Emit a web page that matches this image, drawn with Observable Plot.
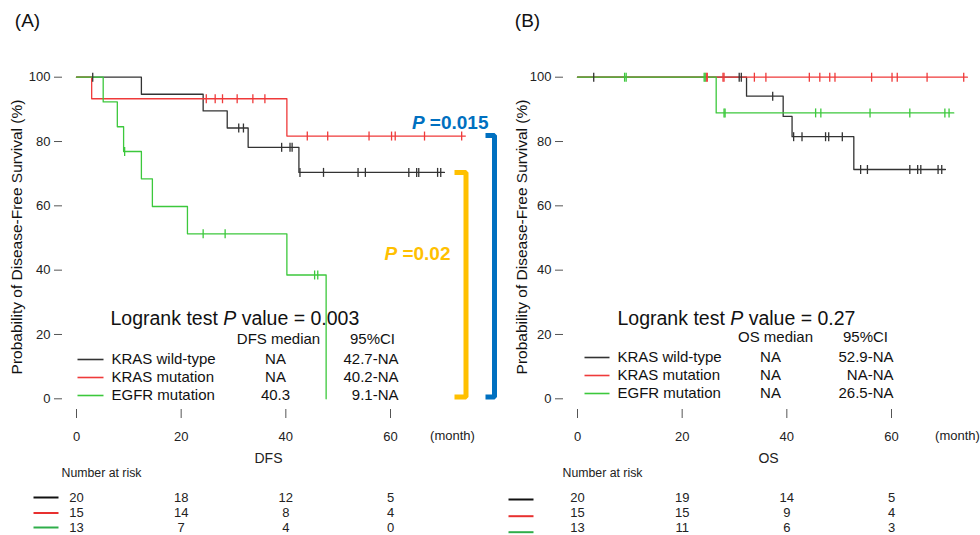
<!DOCTYPE html>
<html><head><meta charset="utf-8">
<script src="https://cdn.jsdelivr.net/npm/d3@7"></script>
<script src="https://cdn.jsdelivr.net/npm/@observablehq/plot@0.6"></script>
<style>
body{margin:0;background:#fff;}
#fig{position:relative;width:980px;height:535px;background:#fff;font-family:"Liberation Sans",Arial,sans-serif;}
#fig svg{position:absolute;top:0;overflow:visible;}
</style></head><body><div id="fig"></div>
<script>
// ---------- data ----------
const groups = ["KRAS wild-type", "KRAS mutation", "EGFR mutation"];
const lineColors = ["#333333", "#ef3a3a", "#3cc83c"];
const riskColors = ["#111111", "#e8302f", "#2fae4a"];
const riskTimes = [0, 20, 40, 60];
const xTicks = [0, 20, 40, 60];
const yTicks = [0, 20, 40, 60, 80, 100];

// DFS (panel A): step times, survival (%) after each step, end of follow-up, censor times
const dfsWtTimes = [0, 12.4, 24.2, 28.8, 32.8, 42.5];
const dfsWtSurv = [100, 94.7, 89.5, 84.2, 78.2, 70.4];
const dfsWtEnd = 70.3;
const dfsWtCens = [3.1, 31.0, 31.9, 39.2, 40.8, 41.2, 42.7, 47.2, 53.8, 55.2, 63.5, 65.0, 65.4, 69.0, 69.6];

const dfsMutTimes = [0, 2.9, 40.2];
const dfsMutSurv = [100, 93.3, 81.7];
const dfsMutEnd = 74.3;
const dfsMutCens = [24.8, 26.5, 27.9, 30.7, 33.7, 36.0, 44.1, 48.0, 55.9, 60.2, 60.9, 66.5, 73.6];

const dfsEgfrTimes = [0, 5.1, 7.8, 9.0, 12.4, 14.5, 21.2, 40.2, 47.7];
const dfsEgfrSurv = [100, 92.3, 84.6, 76.9, 68.4, 59.8, 51.3, 38.5, 0];
const dfsEgfrEnd = 47.7;
const dfsEgfrCens = [9.2, 24.2, 28.4, 45.5, 46.1];

const dfsRisk = [[20, 18, 12, 5], [15, 14, 8, 4], [13, 7, 4, 0]];
const dfsMedian = ["NA", "NA", "40.3"];
const dfsCI = ["42.7-NA", "40.2-NA", "9.1-NA"];
const dfsLogrank = "0.003";

// OS (panel B)
const osWtTimes = [0, 32.3, 39.3, 41.0, 52.8];
const osWtSurv = [100, 94.1, 87.8, 81.5, 71.3];
const osWtEnd = 70.3;
const osWtCens = [3.1, 30.9, 31.3, 37.3, 41.3, 42.9, 47.4, 48.0, 50.6, 54.1, 55.4, 63.5, 65.0, 65.6, 68.9, 69.6];

const osMutTimes = [0];
const osMutSurv = [100];
const osMutEnd = 74.5;
const osMutCens = [24.6, 24.8, 27.8, 28.0, 33.8, 36.0, 44.3, 46.3, 48.2, 49.2, 56.2, 60.1, 61.1, 66.8, 73.8];

const osEgfrTimes = [0, 26.5];
const osEgfrSurv = [100, 88.9];
const osEgfrEnd = 71.9;
const osEgfrCens = [9.0, 9.3, 24.2, 24.4, 28.0, 28.2, 45.5, 46.5, 55.9, 63.5, 70.2, 71.0];

const osRisk = [[20, 19, 14, 5], [15, 15, 9, 4], [13, 11, 6, 3]];
const osMedian = ["NA", "NA", "NA"];
const osCI = ["52.9-NA", "NA-NA", "26.5-NA"];
const osLogrank = "0.27";

// pairwise p-values shown on panel A (plateau levels of the compared curves)
const pairP = [
  {label: "P =0.015", color: "#0070c0", top: 81.9},
  {label: "P =0.02", color: "#ffc000", top: 70.4}
];

// ---------- helpers ----------
const FONT = '"Liberation Sans", Arial, sans-serif';
const vbar = {draw(ctx, size) { const r = Math.sqrt(size / Math.PI); ctx.moveTo(0, -r); ctx.lineTo(0, r); }};

function stepAt(times, surv, t) {
  let s = surv[0];
  for (let i = 0; i < times.length; i++) if (times[i] <= t) s = surv[i];
  return s;
}
function curvePoints(times, surv, end) {
  const pts = times.map((t, i) => ({t, s: surv[i]}));
  pts.push({t: end, s: surv[surv.length - 1]});
  return pts;
}

function panel(cfg) {
  const {width, left, x0px, x60px, mL, mR} = cfg;
  const height = 535, mT = 64, mB = 126;
  const y0px = 398.3, y100px = 76.7;
  const kx = (x60px - x0px) / 60, ky = (y0px - y100px) / 100;
  const X = (px) => (px - x0px) / kx;
  const Y = (py) => (y0px - py) / ky;
  const xDomain = [X(mL), X(width - mR)];
  const yDomain = [Y(height - mB), Y(mT)];

  const marks = [];
  marks.push(Plot.axisY({ticks: yTicks, tickSize: 8, tickPadding: 4, line: true, label: null, fontSize: 13, stroke: "#555", fill: "#222"}));
  marks.push(Plot.axisX({ticks: xTicks, tickSize: 9, tickPadding: 13, line: true, label: null, fontSize: 13, stroke: "#555", fill: "#222"}));

  cfg.curves.forEach((c, i) => {
    marks.push(Plot.line(curvePoints(c.times, c.surv, c.end), {x: "t", y: "s", curve: "step-after", stroke: lineColors[i], strokeWidth: 1.3}));
  });
  cfg.curves.forEach((c, i) => {
    const cens = c.cens.map(t => ({t, s: stepAt(c.times, c.surv, t)}));
    marks.push(Plot.dot(cens, {x: "t", y: "s", symbol: vbar, r: 4.5, stroke: lineColors[i], fill: "none", strokeWidth: 1.3}));
  });

  // panel label and axis titles
  marks.push(Plot.text([cfg.tag], {x: X(27), y: Y(20), fontSize: 19, fill: "#111"}));
  marks.push(Plot.text(["Probability of Disease-Free Survival (%)"], {x: X(cfg.ylabX), y: Y(236.5), rotate: -90, fontSize: 15.5, fill: "#111"}));
  marks.push(Plot.text(["(month)"], {x: X(cfg.monthX), y: Y(435.5), fontSize: 13, fill: "#222"}));
  marks.push(Plot.text([cfg.endpoint], {x: X(268), y: Y(458), fontSize: 14, fill: "#222"}));

  // in-plot legend
  const L = cfg.leg;
  marks.push(Plot.text([`Logrank test P value = ${cfg.logrank}`], {x: X(L.lrX), y: Y(318), textAnchor: "start", fontSize: 19.5, fill: "#111"}));
  marks.push(Plot.text([`${cfg.endpoint} median`], {x: X(L.medHX), y: Y(L.hdrY), fontSize: 15, fill: "#111"}));
  marks.push(Plot.text(["95%CI"], {x: X(L.ciHX), y: Y(L.hdrY), fontSize: 15, fill: "#111"}));
  const rows = groups.map((g, i) => ({g, i, med: cfg.median[i], ci: cfg.ci[i], y: Y(L.rowY[i])}));
  marks.push(Plot.link(rows, {x1: X(L.swX[0]), x2: X(L.swX[1]), y1: "y", y2: "y", stroke: (d) => lineColors[d.i], strokeWidth: 1.6}));
  marks.push(Plot.text(rows, {x: X(L.labX), y: "y", text: "g", textAnchor: "start", fontSize: 15, fill: "#111"}));
  marks.push(Plot.text(rows, {x: X(L.medX), y: "y", text: "med", fontSize: 15, fill: "#111"}));
  marks.push(Plot.text(rows, {x: X(L.ciX), y: "y", text: "ci", textAnchor: "end", fontSize: 15, fill: "#111"}));

  // number at risk table
  marks.push(Plot.text(["Number at risk"], {x: X(cfg.narX), y: Y(473), textAnchor: "start", fontSize: 12.3, fill: "#222"}));
  const riskRowsY = [497, 512, 527];
  const riskCells = [];
  cfg.risk.forEach((r, i) => r.forEach((n, j) => riskCells.push({t: riskTimes[j], n, y: Y(riskRowsY[i])})));
  marks.push(Plot.text(riskCells, {x: "t", y: "y", text: (d) => String(d.n), fontSize: 13, fill: "#222"}));
  const sw = groups.map((g, i) => ({i, y: Y(cfg.riskSwY[i])}));
  marks.push(Plot.link(sw, {x1: X(cfg.riskSwX[0]), x2: X(cfg.riskSwX[1]), y1: "y", y2: "y", stroke: (d) => riskColors[d.i], strokeWidth: 2}));

  // pairwise brackets
  if (cfg.brackets) {
    cfg.brackets.forEach((b) => {
      const pts = [{x: X(b.x1), y: b.top}, {x: X(b.x2), y: b.top}, {x: X(b.x2), y: Y(396.5)}, {x: X(b.x1), y: Y(396.5)}];
      marks.push(Plot.line(pts, {x: "x", y: "y", stroke: b.color, strokeWidth: 5, strokeLinejoin: "miter", strokeLinecap: "butt", curve: "linear"}));
      marks.push(Plot.text([b.label], {x: X(b.tx), y: Y(b.ty), textAnchor: "end", fontSize: 19, fontWeight: "bold", fill: b.color}));
    });
  }

  const svg = Plot.plot({
    width, height,
    marginLeft: mL, marginRight: mR, marginTop: mT, marginBottom: mB,
    x: {domain: xDomain},
    y: {domain: yDomain},
    style: {fontFamily: FONT, fontSize: "13px", background: "transparent", overflow: "visible"},
    marks
  });
  svg.style.left = left + "px";

  // italic P inside texts
  svg.querySelectorAll("text").forEach((t) => {
    const s = t.textContent;
    if (s.startsWith("Logrank test P")) {
      t.innerHTML = `Logrank test <tspan font-style="italic">P</tspan>${s.slice(14)}`;
    } else if (/^P =/.test(s)) {
      t.innerHTML = `<tspan font-style="italic">P</tspan>${s.slice(1)}`;
    }
  });
  return svg;
}

const fig = document.getElementById("fig");
fig.appendChild(panel({
  tag: "(A)", endpoint: "DFS", width: 500, left: 0, x0px: 76, x60px: 390, mL: 62, mR: 23,
  ylabX: 17, monthX: 452, narX: 61,
  curves: [
    {times: dfsWtTimes, surv: dfsWtSurv, end: dfsWtEnd, cens: dfsWtCens},
    {times: dfsMutTimes, surv: dfsMutSurv, end: dfsMutEnd, cens: dfsMutCens},
    {times: dfsEgfrTimes, surv: dfsEgfrSurv, end: dfsEgfrEnd, cens: dfsEgfrCens}
  ],
  logrank: dfsLogrank, median: dfsMedian, ci: dfsCI, risk: dfsRisk,
  leg: {lrX: 110, hdrY: 339, medHX: 278, ciHX: 372, rowY: [359, 377, 395], swX: [77, 103], labX: 111, medX: 275, ciX: 398},
  riskSwX: [33, 58], riskSwY: [497, 512.5, 527],
  brackets: [
    {...pairP[0], x1: 485, x2: 494, tx: 488, ty: 122},
    {...pairP[1], x1: 454, x2: 465.5, tx: 450, ty: 253}
  ]
}));
fig.appendChild(panel({
  tag: "(B)", endpoint: "OS", width: 480, left: 500, x0px: 77, x60px: 391, mL: 63, mR: 5,
  ylabX: 22, monthX: 457, narX: 62,
  curves: [
    {times: osWtTimes, surv: osWtSurv, end: osWtEnd, cens: osWtCens},
    {times: osMutTimes, surv: osMutSurv, end: osMutEnd, cens: osMutCens},
    {times: osEgfrTimes, surv: osEgfrSurv, end: osEgfrEnd, cens: osEgfrCens}
  ],
  logrank: osLogrank, median: osMedian, ci: osCI, risk: osRisk,
  leg: {lrX: 117, hdrY: 337, medHX: 275, ciHX: 365, rowY: [357, 375, 393], swX: [84, 109], labX: 117, medX: 270, ciX: 393},
  riskSwX: [8, 33], riskSwY: [499, 515.7, 531.7]
}));
</script></body></html>
